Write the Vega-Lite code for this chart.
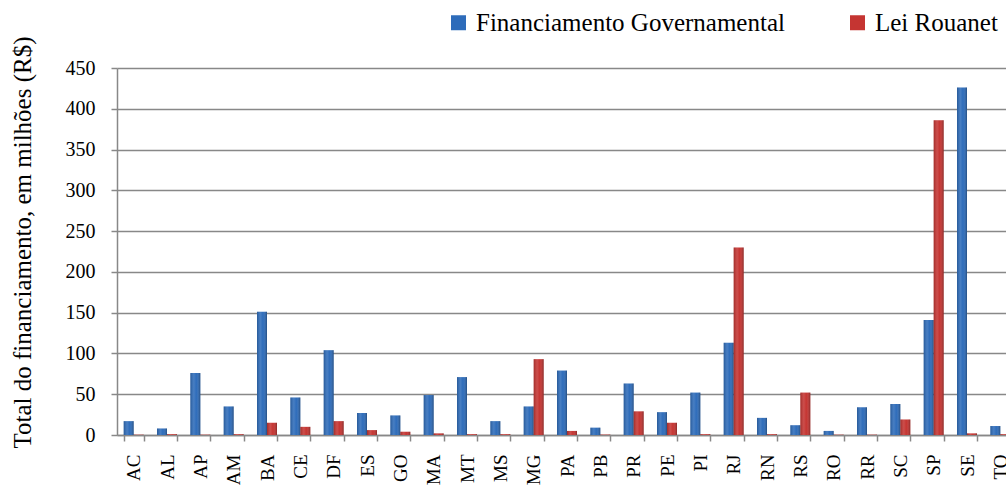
{
  "$schema": "https://vega.github.io/schema/vega-lite/v6.json",
  "width": 889,
  "height": 367,
  "autosize": {"type": "none"},
  "padding": {"left": 117, "top": 68, "right": 0, "bottom": 53},
  "background": "white",
  "config": {
    "font": "Liberation Serif, DejaVu Serif, serif",
    "axis": {"labelFont": "Liberation Serif, DejaVu Serif, serif", "titleFont": "Liberation Serif, DejaVu Serif, serif"},
    "legend": {"labelFont": "Liberation Serif, DejaVu Serif, serif"},
    "view": {"stroke": null}
  },
  "data": {
    "values": [
      {"estado": "AC", "fonte": "Financiamento Governamental", "valor": 17},
      {"estado": "AC", "fonte": "Lei Rouanet", "valor": 0.4},
      {"estado": "AL", "fonte": "Financiamento Governamental", "valor": 8},
      {"estado": "AL", "fonte": "Lei Rouanet", "valor": 1},
      {"estado": "AP", "fonte": "Financiamento Governamental", "valor": 76},
      {"estado": "AP", "fonte": "Lei Rouanet", "valor": 0.4},
      {"estado": "AM", "fonte": "Financiamento Governamental", "valor": 35},
      {"estado": "AM", "fonte": "Lei Rouanet", "valor": 1},
      {"estado": "BA", "fonte": "Financiamento Governamental", "valor": 151},
      {"estado": "BA", "fonte": "Lei Rouanet", "valor": 15},
      {"estado": "CE", "fonte": "Financiamento Governamental", "valor": 46},
      {"estado": "CE", "fonte": "Lei Rouanet", "valor": 10},
      {"estado": "DF", "fonte": "Financiamento Governamental", "valor": 104},
      {"estado": "DF", "fonte": "Lei Rouanet", "valor": 17},
      {"estado": "ES", "fonte": "Financiamento Governamental", "valor": 27},
      {"estado": "ES", "fonte": "Lei Rouanet", "valor": 6},
      {"estado": "GO", "fonte": "Financiamento Governamental", "valor": 24},
      {"estado": "GO", "fonte": "Lei Rouanet", "valor": 4},
      {"estado": "MA", "fonte": "Financiamento Governamental", "valor": 49},
      {"estado": "MA", "fonte": "Lei Rouanet", "valor": 2},
      {"estado": "MT", "fonte": "Financiamento Governamental", "valor": 71},
      {"estado": "MT", "fonte": "Lei Rouanet", "valor": 1},
      {"estado": "MS", "fonte": "Financiamento Governamental", "valor": 17},
      {"estado": "MS", "fonte": "Lei Rouanet", "valor": 1},
      {"estado": "MG", "fonte": "Financiamento Governamental", "valor": 35},
      {"estado": "MG", "fonte": "Lei Rouanet", "valor": 93},
      {"estado": "PA", "fonte": "Financiamento Governamental", "valor": 79},
      {"estado": "PA", "fonte": "Lei Rouanet", "valor": 5},
      {"estado": "PB", "fonte": "Financiamento Governamental", "valor": 9},
      {"estado": "PB", "fonte": "Lei Rouanet", "valor": 0.5},
      {"estado": "PR", "fonte": "Financiamento Governamental", "valor": 63},
      {"estado": "PR", "fonte": "Lei Rouanet", "valor": 29},
      {"estado": "PE", "fonte": "Financiamento Governamental", "valor": 28},
      {"estado": "PE", "fonte": "Lei Rouanet", "valor": 15},
      {"estado": "PI", "fonte": "Financiamento Governamental", "valor": 52},
      {"estado": "PI", "fonte": "Lei Rouanet", "valor": 1},
      {"estado": "RJ", "fonte": "Financiamento Governamental", "valor": 113},
      {"estado": "RJ", "fonte": "Lei Rouanet", "valor": 230},
      {"estado": "RN", "fonte": "Financiamento Governamental", "valor": 21},
      {"estado": "RN", "fonte": "Lei Rouanet", "valor": 1},
      {"estado": "RS", "fonte": "Financiamento Governamental", "valor": 12},
      {"estado": "RS", "fonte": "Lei Rouanet", "valor": 52},
      {"estado": "RO", "fonte": "Financiamento Governamental", "valor": 5},
      {"estado": "RO", "fonte": "Lei Rouanet", "valor": 0.4},
      {"estado": "RR", "fonte": "Financiamento Governamental", "valor": 34},
      {"estado": "RR", "fonte": "Lei Rouanet", "valor": 0.4},
      {"estado": "SC", "fonte": "Financiamento Governamental", "valor": 38},
      {"estado": "SC", "fonte": "Lei Rouanet", "valor": 19},
      {"estado": "SP", "fonte": "Financiamento Governamental", "valor": 141},
      {"estado": "SP", "fonte": "Lei Rouanet", "valor": 386},
      {"estado": "SE", "fonte": "Financiamento Governamental", "valor": 426},
      {"estado": "SE", "fonte": "Lei Rouanet", "valor": 2},
      {"estado": "TO", "fonte": "Financiamento Governamental", "valor": 11},
      {"estado": "TO", "fonte": "Lei Rouanet", "valor": 1}
    ]
  },
  "encoding": {
    "x": {
      "field": "estado",
      "type": "nominal",
      "sort": null,
      "scale": {"range": [0, 900], "paddingInner": 0.4, "paddingOuter": 0.2},
      "axis": {
        "title": null,
        "labelAngle": -90,
        "labelFont": "Liberation Serif, DejaVu Serif, serif",
        "labelFontSize": 19,
        "labelColor": "#000",
        "labelPadding": 13,
        "tickBand": "extent",
        "tickColor": "#888",
        "tickSize": 6,
        "tickWidth": 1.5,
        "domainColor": "#888",
        "domainWidth": 1.5,
        "grid": false
      }
    },
    "xOffset": {
      "field": "fonte",
      "type": "nominal",
      "scale": {"domain": ["Financiamento Governamental", "Lei Rouanet"], "paddingInner": 0, "paddingOuter": 0}
    },
    "y": {
      "field": "valor",
      "type": "quantitative",
      "scale": {"domain": [0, 450], "nice": false},
      "axis": {
        "title": "Total do financiamento, em milhões (R$)",
        "values": [0, 50, 100, 150, 200, 250, 300, 350, 400, 450],
        "grid": true,
        "gridColor": "#888",
        "gridWidth": 1.5,
        "domainColor": "#888",
        "domainWidth": 1.5,
        "tickColor": "#888",
        "tickSize": 6,
        "tickWidth": 1.5,
        "labelFont": "Liberation Serif, DejaVu Serif, serif",
        "labelFontSize": 20,
        "labelColor": "#000",
        "labelPadding": 16,
        "titleFont": "Liberation Serif, DejaVu Serif, serif",
        "titleFontSize": 25,
        "titleFontWeight": "normal",
        "titleColor": "#000",
        "titleX": -95,
        "titleY": 174,
        "titleAlign": "center",
        "titleBaseline": "middle",
        "titleAngle": -90
      }
    }
  },
  "layer": [
    {
      "mark": {"type": "bar"},
      "encoding": {
        "color": {
          "field": "fonte",
          "type": "nominal",
          "scale": {"domain": ["Financiamento Governamental", "Lei Rouanet"], "range": ["#2e6cba", "#c53532"]},
          "legend": {
            "title": null,
            "orient": "none",
            "direction": "horizontal",
            "legendX": 329,
            "legendY": -58,
            "padding": 0,
            "symbolType": "square",
            "symbolSize": 225,
            "symbolStrokeWidth": 0,
            "symbolOpacity": 1,
            "labelFont": "Liberation Serif, DejaVu Serif, serif",
            "labelFontSize": 25,
            "labelColor": "#000",
            "labelOffset": 5,
            "columnPadding": 60,
            "labelLimit": 500
          }
        }
      }
    },
    {
      "mark": {
        "type": "bar",
        "fill": {
          "gradient": "linear",
          "x1": 0, "y1": 0, "x2": 1, "y2": 0,
          "stops": [
            {"offset": 0, "color": "rgba(0,0,0,0.18)"},
            {"offset": 0.35, "color": "rgba(255,255,255,0.12)"},
            {"offset": 0.6, "color": "rgba(255,255,255,0)"},
            {"offset": 1, "color": "rgba(0,0,0,0.3)"}
          ]
        }
      },
      "encoding": {}
    }
  ]
}
